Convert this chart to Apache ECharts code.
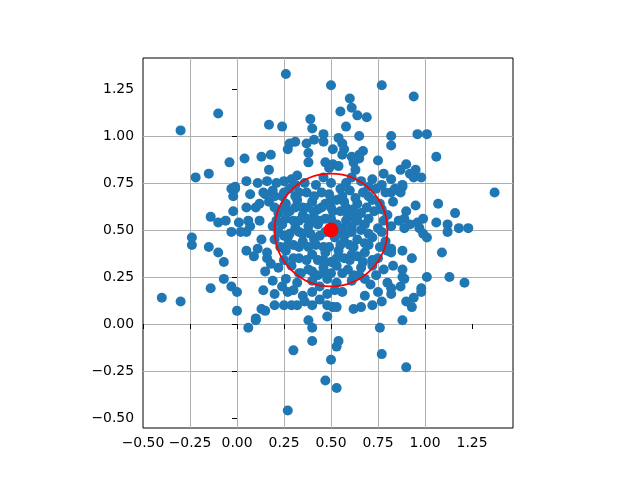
<!DOCTYPE html>
<html><head><meta charset="utf-8">
<script src="https://cdn.jsdelivr.net/npm/echarts@6/dist/echarts.min.js"></script>
<style>html,body{margin:0;padding:0;background:#fff}#c{width:640px;height:480px}</style>
</head><body><div id="c"></div>
<script>
// scattered samples [x, y]
const samples = [
[0.26,1.33],[0.50,1.27],[0.77,1.27],[0.60,1.20],[0.61,1.15],[0.55,1.13],[0.64,1.11],[0.69,1.10],[0.39,1.09],[0.40,1.04],
[0.58,1.05],[0.17,1.06],[0.24,1.05],[0.46,1.01],[0.54,0.99],[0.65,1.00],[0.82,1.00],[0.82,0.95],[0.31,0.97],[0.28,0.96],
[0.27,0.93],[0.37,0.96],[0.41,0.98],[0.46,0.97],[0.56,0.96],[0.57,0.93],[0.38,0.91],[0.51,0.93],[0.18,0.90],[0.56,0.90],
[0.67,0.92],[0.65,0.90],[0.61,0.89],[0.65,0.88],[0.38,0.86],[0.47,0.86],[0.51,0.85],[0.54,0.84],[0.49,0.83],[0.75,0.87],
[0.62,0.86],[0.63,0.82],[0.17,0.82],[0.78,0.80],[0.72,0.77],[0.32,0.79],[0.29,0.77],[0.25,0.76],[0.21,0.75],[0.46,0.78],
[0.61,0.78],[-0.30,1.03],[-0.10,1.12],[-0.04,0.86],[0.04,0.88],[0.13,0.89],[-0.15,0.80],[-0.22,0.78],[0.05,0.76],[0.11,0.75],
[-0.01,0.73],[0.16,0.76],[0.94,1.21],[0.96,1.01],[1.01,1.01],[1.06,0.89],[0.90,0.85],[0.87,0.82],[0.95,0.82],[0.92,0.80],
[0.94,0.78],[0.98,0.78],[0.88,0.74],[-0.03,0.72],[-0.01,0.72],[-0.02,0.68],[0.07,0.69],[0.15,0.69],[0.12,0.64],[0.05,0.62],
[0.10,0.62],[-0.02,0.60],[-0.14,0.57],[-0.10,0.54],[-0.06,0.55],[0.01,0.54],[0.06,0.55],[0.12,0.55],[-0.03,0.49],[0.02,0.49],
[0.05,0.49],[0.07,0.52],[-0.24,0.46],[-0.24,0.42],[-0.15,0.41],[-0.10,0.38],[-0.07,0.33],[0.05,0.39],[0.11,0.40],[0.09,0.36],
[0.13,0.45],[0.16,0.35],[-0.07,0.24],[-0.14,0.19],[-0.03,0.20],[0.00,0.17],[0.14,0.18],[-0.40,0.14],[-0.30,0.12],[0.00,0.07],
[0.13,0.08],[1.37,0.70],[0.88,0.73],[0.87,0.70],[0.82,0.70],[0.83,0.65],[0.95,0.63],[1.07,0.64],[1.16,0.59],[0.90,0.60],
[0.86,0.55],[0.89,0.56],[0.89,0.51],[0.92,0.53],[0.96,0.54],[0.99,0.56],[0.97,0.51],[0.99,0.48],[1.01,0.46],[1.06,0.54],
[1.12,0.53],[1.12,0.49],[1.18,0.51],[1.23,0.51],[0.82,0.52],[1.09,0.38],[0.82,0.40],[0.82,0.38],[0.88,0.39],[0.93,0.35],
[0.83,0.31],[0.88,0.29],[0.88,0.25],[0.89,0.24],[1.01,0.25],[1.13,0.25],[1.21,0.22],[0.87,0.20],[0.82,0.19],[0.98,0.19],
[0.98,0.17],[0.94,0.14],[0.90,0.12],[0.93,0.09],[0.10,0.03],[0.10,0.02],[0.06,-0.02],[0.15,0.07],[0.20,0.10],[0.25,0.10],
[0.29,0.10],[0.32,0.10],[0.40,0.10],[0.48,0.10],[0.51,0.09],[0.53,0.09],[0.48,0.04],[0.62,0.08],[0.66,0.09],[0.38,0.02],
[0.40,-0.02],[0.76,-0.02],[0.40,-0.09],[0.54,-0.09],[0.53,-0.12],[0.30,-0.14],[0.77,-0.16],[0.50,-0.19],[0.47,-0.30],[0.53,-0.34],
[0.27,-0.46],[0.88,0.02],[0.90,-0.23],
[0.19,0.71],[0.28,0.72],[0.37,0.70],[0.55,0.72],[0.60,0.71],[0.67,0.70],[0.74,0.72],[0.79,0.70],
[0.17,0.65],[0.26,0.64],[0.32,0.66],[0.40,0.65],[0.47,0.64],[0.53,0.66],[0.57,0.65],[0.64,0.64],[0.72,0.66],[0.76,0.64],
[0.22,0.59],[0.28,0.60],[0.35,0.58],[0.41,0.59],[0.51,0.60],[0.59,0.58],[0.66,0.59],[0.73,0.60],[0.80,0.58],
[0.19,0.52],[0.24,0.53],[0.31,0.51],[0.38,0.52],[0.43,0.53],[0.56,0.51],[0.61,0.52],[0.68,0.53],[0.75,0.51],
[0.20,0.45],[0.27,0.46],[0.35,0.44],[0.41,0.45],[0.52,0.46],[0.57,0.44],[0.64,0.45],[0.72,0.46],[0.79,0.44],
[0.16,0.38],[0.26,0.39],[0.40,0.37],[0.47,0.38],[0.54,0.39],[0.61,0.37],[0.68,0.38],[0.80,0.39],
[0.22,0.30],[0.29,0.31],[0.38,0.29],[0.46,0.30],[0.53,0.31],[0.59,0.29],[0.66,0.30],[0.72,0.31],[0.78,0.29],
[0.19,0.23],[0.26,0.24],[0.32,0.22],[0.40,0.23],[0.48,0.24],[0.53,0.22],[0.61,0.23],[0.68,0.24],[0.80,0.22],
[0.20,0.16],[0.27,0.17],[0.35,0.15],[0.40,0.17],[0.48,0.16],[0.56,0.17],[0.68,0.15],[0.75,0.17],[0.82,0.16],
[0.35,0.62],[0.45,0.62],[0.55,0.60],[0.62,0.57],[0.30,0.55],[0.40,0.55],[0.47,0.56],[0.53,0.53],[0.35,0.48],[0.44,0.47],
[0.58,0.48],[0.66,0.50],[0.30,0.42],[0.38,0.41],[0.46,0.41],[0.60,0.42],[0.68,0.43],[0.33,0.35],[0.43,0.34],[0.50,0.33],
[0.57,0.35],[0.64,0.36],[0.40,0.28],[0.50,0.27],[0.62,0.26],[0.72,0.34],[0.25,0.47],[0.45,0.70],[0.50,0.66],[0.33,0.70],
[0.24,0.68],[0.31,0.68],[0.41,0.68],[0.49,0.69],[0.56,0.68],[0.63,0.67],[0.70,0.68],
[0.20,0.62],[0.25,0.61],[0.31,0.62],[0.38,0.62],[0.43,0.61],[0.50,0.62],[0.58,0.62],[0.62,0.61],[0.69,0.62],[0.77,0.61],
[0.21,0.55],[0.26,0.56],[0.33,0.55],[0.37,0.56],[0.44,0.55],[0.50,0.56],[0.58,0.55],[0.64,0.55],[0.70,0.56],[0.78,0.55],
[0.22,0.49],[0.28,0.48],[0.33,0.49],[0.39,0.48],[0.47,0.49],[0.54,0.48],[0.61,0.49],[0.70,0.48],[0.77,0.49],
[0.23,0.41],[0.27,0.42],[0.33,0.41],[0.42,0.42],[0.49,0.41],[0.55,0.42],[0.62,0.41],[0.70,0.42],[0.76,0.41],
[0.25,0.34],[0.30,0.35],[0.37,0.34],[0.46,0.34],[0.53,0.35],[0.60,0.34],[0.67,0.33],[0.75,0.35],
[0.34,0.27],[0.43,0.26],[0.47,0.27],[0.56,0.27],[0.65,0.26],
[0.14,0.70],[0.20,0.68],[0.25,0.70],[0.31,0.74],[0.36,0.75],[0.42,0.74],[0.50,0.75],[0.58,0.75],[0.66,0.76],[0.70,0.73],
[0.77,0.74],[0.82,0.77],[0.84,0.72],
[0.15,0.28],[0.18,0.32],[0.24,0.20],[0.30,0.18],[0.33,0.27],[0.44,0.20],[0.52,0.18],[0.71,0.21],[0.74,0.26],[0.77,0.12],
[0.72,0.10],[0.44,0.13],[0.36,0.12]
];
const centerPoint = [0.5, 0.5];
const circleRadius = 0.3;
const xTicks = [-0.5, -0.25, 0, 0.25, 0.5, 0.75, 1.0, 1.25];
const yTicks = [-0.5, -0.25, 0, 0.25, 0.5, 0.75, 1.0, 1.25];
const xRange = [-0.5, 1.468];
const yRange = [-0.553, 1.415];

function fmt(v) {
  const s = Math.abs(v).toFixed(2);
  return (v < -1e-9 ? '\u2212' : '') + s;
}
const labelStyle = { color: '#000', fontFamily: 'DejaVu Sans', fontSize: 13.9 };

const chart = echarts.init(document.getElementById('c'), null, { renderer: 'canvas' });
chart.setOption({
  animation: false,
  backgroundColor: '#fff',
  grid: { left: 143, top: 58, width: 370, height: 370, show: true, borderColor: '#000', borderWidth: 1, backgroundColor: 'transparent' },
  xAxis: {
    type: 'value', min: xRange[0], max: xRange[1], interval: 0.25,
    axisLine: { show: false },
    axisTick: { show: true, length: 5, inside: false, lineStyle: { color: '#000', width: 1 }, customValues: xTicks },
    axisLabel: Object.assign({ customValues: xTicks, formatter: fmt, margin: 8 }, labelStyle),
    splitLine: { show: true, showMinLine: false, showMaxLine: false, lineStyle: { color: '#b0b0b0', width: 1 } }
  },
  yAxis: {
    type: 'value', min: yRange[0], max: yRange[1], interval: 0.25,
    axisLine: { show: false },
    axisTick: { show: true, length: 5, inside: false, lineStyle: { color: '#000', width: 1 }, customValues: yTicks },
    axisLabel: Object.assign({ customValues: yTicks, formatter: fmt, margin: 9 }, labelStyle),
    splitLine: { show: true, showMinLine: false, showMaxLine: false, lineStyle: { color: '#b0b0b0', width: 1 } }
  },
  series: [
    {
      type: 'scatter', data: samples, symbolSize: 10, z: 2,
      itemStyle: { color: '#1f77b4', opacity: 1 }, silent: true
    },
    {
      type: 'scatter', data: [centerPoint], symbolSize: 15, z: 3,
      itemStyle: { color: '#ff0000', opacity: 1 }, silent: true
    },
    {
      type: 'custom', z: 4, silent: true, clip: false,
      encode: { x: 0, y: 1 },
      data: [[centerPoint[0], centerPoint[1], circleRadius]],
      renderItem: function (params, api) {
        const c = api.coord([api.value(0), api.value(1)]);
        const s = api.size([api.value(2), api.value(2)]);
        return { type: 'circle', shape: { cx: c[0], cy: c[1], r: s[0] }, style: { fill: 'none', stroke: '#ff0000', lineWidth: 1.8 } };
      }
    }
  ]
});
</script></body></html>
